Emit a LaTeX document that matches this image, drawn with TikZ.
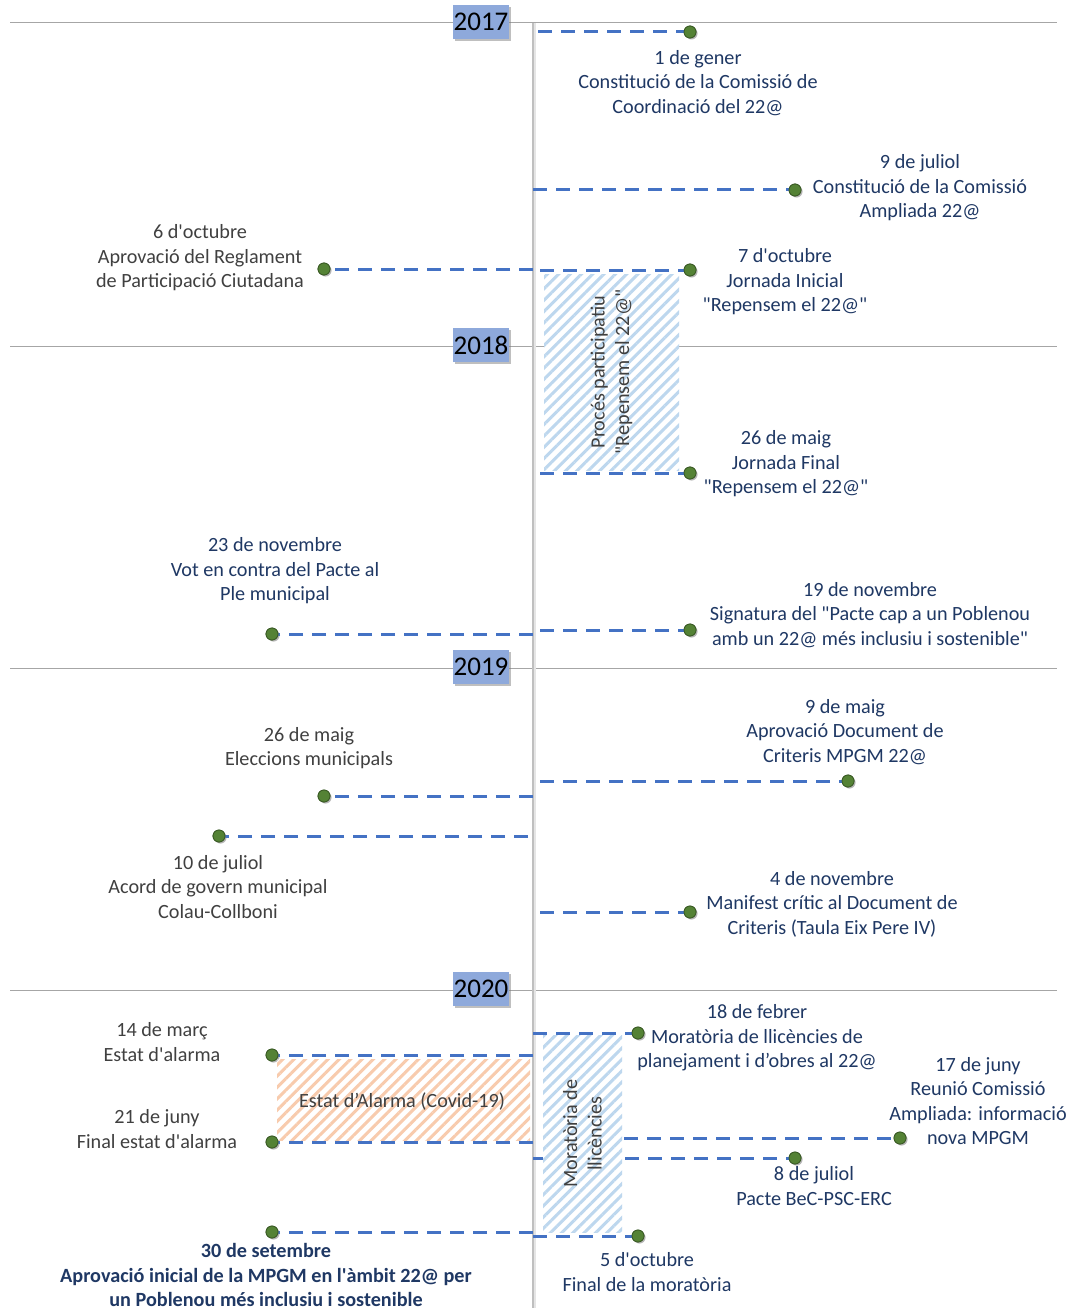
\documentclass[tikz,border=0pt]{standalone}
\usepackage{fontspec}
\setmainfont{Carlito}[Ligatures=TeXOff]
\usetikzlibrary{shadows,patterns.meta}
\definecolor{navy}{HTML}{1F3864}
\definecolor{txtgray}{HTML}{404040}
\definecolor{dashblue}{HTML}{4472C4}
\definecolor{dotgreen}{HTML}{548235}
\definecolor{dotedge}{HTML}{3A5A25}
\definecolor{yearblue}{HTML}{8EA9DB}
\definecolor{hatchblue}{HTML}{BDD7EE}
\definecolor{hatchorange}{HTML}{F8CBAD}
\definecolor{axisgray}{HTML}{BFBFBF}
\definecolor{rulegray}{HTML}{A6A6A6}
\begin{document}
\begin{tikzpicture}[x=1pt,y=-1pt,
  evtext/.style={font=\fontsize{20.2}{24.5}\selectfont, align=center, text=navy, inner sep=0pt},
  graytext/.style={evtext, text=txtgray},
  boldtext/.style={evtext, font=\fontsize{20.2}{24.5}\selectfont\bfseries},
  dot/.style={circle, fill=dotgreen, draw=dotedge, line width=0.8pt, minimum size=12pt, inner sep=0pt,
    drop shadow={shadow xshift=1.5pt, shadow yshift=-1.5pt, opacity=0.35}},
  link/.style={dashblue, line width=3pt, dash pattern=on 14pt off 9pt},
  yearrule/.style={rulegray, line width=1pt},
  yearbox/.style={fill=yearblue, font=\fontsize{27}{30}\selectfont, inner sep=0pt,
    minimum width=56pt, minimum height=34pt,
    drop shadow={shadow xshift=2pt, shadow yshift=-2pt, opacity=0.5}},
  bluehatch/.style={preaction={fill=white}, pattern={Lines[angle=45,distance=8pt,line width=3pt]}, pattern color=hatchblue, inner sep=0pt},
  orangehatch/.style={preaction={fill=white}, pattern={Lines[angle=45,distance=8pt,line width=3pt]}, pattern color=hatchorange, inner sep=0pt}
]
\useasboundingbox (0,0) rectangle (1067,1308);
\fill[white] (0,0) rectangle (1067,1308);

% year rules
\foreach \yy in {23,346,668,990}{
  \draw[yearrule] (10,\yy) -- (1057,\yy);
}
% axis
\coordinate (axisTop) at (533,23);
\coordinate (axisBot) at (533,1308);
\draw[axisgray!40, line width=2pt] ([xshift=2pt]axisTop) -- ([xshift=2pt]axisBot);
\draw[axisgray, line width=2pt] (axisTop) -- (axisBot);

% dots
\node[dot] (d1) at (690,32) {};
\node[dot] (d2) at (795,190) {};
\node[dot] (d3) at (324,269) {};
\node[dot] (d4) at (690,270) {};
\node[dot] (d5) at (690,473) {};
\node[dot] (d6) at (272,634) {};
\node[dot] (d7) at (690,630) {};
\node[dot] (d8) at (848,781) {};
\node[dot] (d9) at (324,796) {};
\node[dot] (d10) at (219,836) {};
\node[dot] (d11) at (690,912) {};
\node[dot] (d12) at (638,1033) {};
\node[dot] (d13) at (272,1055) {};
\node[dot] (d14) at (272,1142) {};
\node[dot] (d15) at (900,1138) {};
\node[dot] (d16) at (795,1158) {};
\node[dot] (d17) at (272,1232) {};
\node[dot] (d18) at (638,1236) {};

% axis anchors
\coordinate (a1) at (538,32);
\coordinate (a2) at (533,190);
\coordinate (a3) at (533,269);
\coordinate (a4) at (540,270);
\coordinate (a5) at (540,473);
\coordinate (a6) at (533,634);
\coordinate (a7) at (540,630);
\coordinate (a8) at (540,781);
\coordinate (a9) at (533,796);
\coordinate (a10) at (528,836);
\coordinate (a11) at (540,912);
\coordinate (a12) at (533,1033);
\coordinate (a13) at (533,1055);
\coordinate (a14) at (533,1142);
\coordinate (a15) at (624,1138);
\coordinate (a16) at (533,1158);
\coordinate (a17) at (533,1232);
\coordinate (a18) at (533,1236);

% links
\foreach \i in {1,...,18}{
  \draw[link] (a\i) -- (d\i);
}

% hatched boxes
\node[bluehatch, minimum width=135pt, minimum height=196pt] (procbox) at (611.5,372) {};
\node[graytext, rotate=90] (proctext) at (procbox.center) {Procés participatiu\\"Repensem el 22@"};
\node[orangehatch, minimum width=253pt, minimum height=81pt] (alarmbox) at (403.5,1099.5) {};
\node[graytext] (alarmtext) at (402,1101) {Estat d’Alarma (Covid-19)};
\node[bluehatch, minimum width=79pt, minimum height=197pt] (morabox) at (582.5,1133.5) {};
\node[graytext, rotate=90] (moratext) at (morabox.center) {Moratòria de\\llicències};

% dots on top
\foreach \i in {1,...,18}{
  \node[dot] at (d\i) {};
}

% texts
\node[evtext] (t1) at (698,83) {1 de gener\\Constitució de la Comissió de\\Coordinació del 22@};
\node[evtext] (t2) at (920,188) {9 de juliol\\Constitució de la Comissió\\Ampliada 22@};
\node[graytext] (t3) at (200,258) {6 d'octubre\\Aprovació del Reglament\\de Participació Ciutadana};
\node[evtext] (t4) at (785,282) {7 d'octubre\\Jornada Inicial\\"Repensem el 22@"};
\node[evtext] (t5) at (786,464) {26 de maig\\Jornada Final\\"Repensem el 22@"};
\node[evtext] (t6) at (275,571) {23 de novembre\\Vot en contra del Pacte al\\Ple municipal};
\node[evtext] (t7) at (870,615) {19 de novembre\\Signatura del "Pacte cap a un Poblenou\\amb un 22@ més inclusiu i sostenible"};
\node[evtext] (t8) at (845,732) {9 de maig\\Aprovació Document de\\Criteris MPGM 22@};
\node[graytext] (t9) at (309,748) {26 de maig\\Eleccions municipals};
\node[graytext] (t10) at (218,887) {10 de juliol\\Acord de govern municipal\\Colau-Collboni};
\node[evtext] (t11) at (832,904) {4 de novembre\\Manifest crític al Document de\\Criteris (Taula Eix Pere IV)};
\node[evtext] (t12) at (757,1038) {18 de febrer\\Moratòria de llicències de\\planejament i d’obres al 22@};
\node[graytext] (t13) at (162,1042) {14 de març\\Estat d'alarma};
\node[graytext] (t14) at (157,1129) {21 de juny\\Final estat d'alarma};
\node[evtext] (t15) at (978,1101) {17 de juny\\Reunió Comissió\\Ampliada: informació\\nova MPGM};
\node[evtext] (t16) at (814,1186) {8 de juliol\\Pacte BeC-PSC-ERC};
\node[boldtext] (t17) at (266,1275) {30 de setembre\\Aprovació inicial de la MPGM en l'àmbit 22@ per\\un Poblenou més inclusiu i sostenible};
\node[evtext] (t18) at (647,1272) {5 d'octubre\\Final de la moratòria};

% year boxes
\node[yearbox] (y2017) at (481,22) {2017};
\node[yearbox] (y2018) at (481,345) {2018};
\node[yearbox] (y2019) at (481,667) {2019};
\node[yearbox] (y2020) at (481,989) {2020};
\end{tikzpicture}
\end{document}
